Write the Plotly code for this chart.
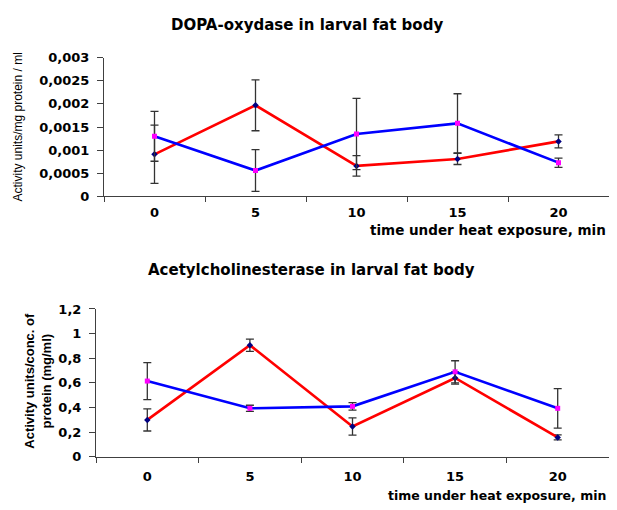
import plotly.graph_objects as go

# ---------------- data ----------------
categories = ["0", "5", "10", "15", "20"]

dopa_red = [0.00091, 0.00197, 0.00066, 0.00081, 0.00119]
dopa_red_err = [0.00063, 0.00055, 0.00022, 0.00012, 0.00014]
dopa_blue = [0.00130, 0.00056, 0.00135, 0.00158, 0.00073]
dopa_blue_err = [0.00054, 0.00045, 0.00077, 0.00064, 0.00010]

ache_red = [0.30, 0.906, 0.247, 0.64, 0.158]
ache_red_err = [0.09, 0.05, 0.07, 0.05, 0.02]
ache_blue = [0.615, 0.394, 0.41, 0.69, 0.394]
ache_blue_err = [0.15, 0.025, 0.03, 0.09, 0.16]

dopa_ticks = [0, 0.0005, 0.001, 0.0015, 0.002, 0.0025, 0.003]
dopa_ticktext = ["0", "0,0005", "0,001", "0,0015", "0,002", "0,0025", "0,003"]
ache_ticks = [0, 0.2, 0.4, 0.6, 0.8, 1.0, 1.2]
ache_ticktext = ["0", "0,2", "0,4", "0,6", "0,8", "1", "1,2"]

title_top = "DOPA-oxydase in larval fat body"
title_bottom = "Acetylcholinesterase in larval fat body"
xtitle = "time under heat exposure, min"
ytitle_top = "Activity units/mg protein / ml"
ytitle_bottom = "Activity units/conc. of<br>protein (mg/ml)"

OFF = 8            # page margin of the figure inside the browser window
W, H = 617 - 2 * OFF, 510 - OFF
RED = "#FF0000"
BLUE = "#0000FF"
ERR = "#333333"
AX = "#404040"
FONT = "DejaVu Sans"
ARIAL = "Liberation Sans"


def px(xs):
    return min(1.0, (xs - OFF) / W)


def py(ys):
    return 1 - (ys - OFF) / H


fig = go.Figure()


def add_series(y, err, color, msym, mcol, xa, ya):
    fig.add_trace(go.Scatter(
        x=categories, y=y, mode="lines+markers",
        line=dict(color=color, width=2.6),
        marker=dict(symbol=msym, size=5, color=mcol),
        error_y=dict(type="data", array=err, visible=True,
                     color=ERR, thickness=1.3, width=4),
        xaxis=xa, yaxis=ya, showlegend=False, hoverinfo="x+y"))


add_series(dopa_red, dopa_red_err, RED, "diamond", "#000080", "x", "y")
add_series(dopa_blue, dopa_blue_err, BLUE, "square", "#FF00FF", "x", "y")
add_series(ache_red, ache_red_err, RED, "diamond", "#000080", "x2", "y2")
add_series(ache_blue, ache_blue_err, BLUE, "square", "#FF00FF", "x2", "y2")

tickfont = dict(family=FONT, size=13, color="#000000", weight="bold")

xcommon = dict(type="category", tickson="boundaries", ticks="outside",
               ticklen=5, tickcolor=AX, showline=True, linecolor=AX,
               linewidth=1, showgrid=False, zeroline=False,
               tickfont=tickfont, range=[-0.5, 4.5])
ycommon = dict(ticks="outside", ticklen=6, tickcolor=AX, showline=True,
               linecolor=AX, linewidth=1, showgrid=False, zeroline=False,
               tickfont=tickfont, ticklabelstandoff=5)

fig.update_layout(
    width=W, height=H,
    margin=dict(l=0, r=0, t=0, b=0),
    paper_bgcolor="white", plot_bgcolor="white",
    xaxis=dict(domain=[px(104), px(609)], anchor="y",
               ticklabelstandoff=4, **xcommon),
    yaxis=dict(domain=[py(195), py(52)], anchor="x",
               range=[0, 0.003], tickvals=dopa_ticks, ticktext=dopa_ticktext,
               **ycommon),
    xaxis2=dict(domain=[px(96), px(609)], anchor="y2",
                ticklabelstandoff=8, **xcommon),
    yaxis2=dict(domain=[py(463.5), py(311)], anchor="x2",
                range=[0, 1.2], tickvals=ache_ticks, ticktext=ache_ticktext,
                **ycommon),
)

annots = [
    dict(text=title_top, x=px(307), y=py(18),
         font=dict(family=FONT, size=15, weight="bold")),
    dict(text=title_bottom, x=px(311), y=py(271),
         font=dict(family=FONT, size=15, weight="bold")),
    dict(text=xtitle, x=px(608), xanchor="right", y=py(230),
         font=dict(family=FONT, size=13.5, weight="bold")),
    dict(text=xtitle, x=px(608), xanchor="right", y=py(503),
         font=dict(family=FONT, size=12.5, weight="bold")),
    dict(text=ytitle_top, x=px(18), y=py(124), textangle=-90,
         font=dict(family=ARIAL, size=12)),
    dict(text=ytitle_bottom, x=px(38), y=py(385), textangle=-90,
         font=dict(family=ARIAL, size=13, weight="bold")),
]
for a in annots:
    a.update(xref="paper", yref="paper", showarrow=False,
             xanchor=a.get("xanchor", "center"), yanchor="middle")
    a["font"].setdefault("color", "#000000")
    fig.add_annotation(**a)

fig.write_html("out.html")
